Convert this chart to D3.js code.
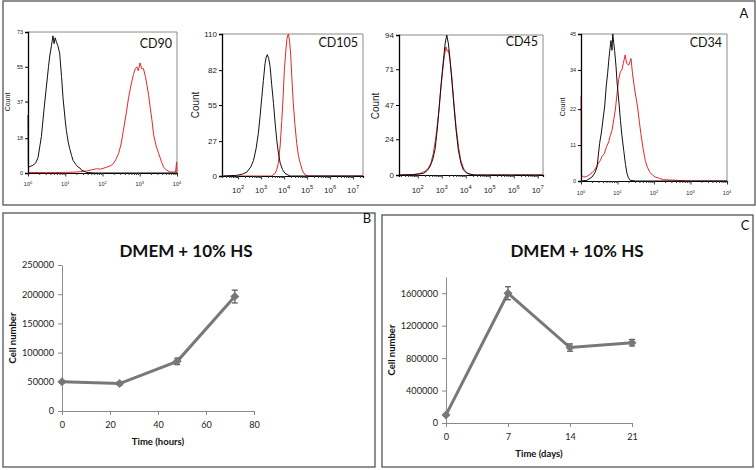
<!DOCTYPE html>
<html><head><meta charset="utf-8">
<script src="https://cdn.jsdelivr.net/npm/d3@7"></script>
<style>body{margin:0;background:#fff} svg{display:block}</style>
</head><body>
<svg id="c" width="756" height="470"></svg>
<script>
// ================= DATA =================
// Flow cytometry histograms: [log10 fluorescence, count]
const markerNames = ["CD90", "CD105", "CD45", "CD34"];
const cd90Isotype = [[0,30],[0.01,3],[0.13,4],[0.2,5],[0.27,8],[0.36,19],[0.43,33],[0.49,44],[0.55,55],[0.58,60],[0.63,66],[0.67,71],[0.7,67],[0.73,70],[0.76,68],[0.8,66],[0.85,62],[0.9,50],[0.94,39],[1.0,27],[1.03,22],[1.08,16],[1.12,12.6],[1.17,9],[1.21,6.5],[1.28,4.5],[1.35,3],[1.4,2.5],[1.44,1.4],[1.5,1],[1.57,0.3],[1.8,0],[4,0]];
const cd90Stained = [[0,0.3],[0.5,0.2],[1.0,0.3],[1.3,0.5],[1.57,1],[1.7,1.6],[1.84,2.2],[1.95,2.0],[2.11,3],[2.2,3.6],[2.29,4.8],[2.36,7],[2.43,10],[2.5,15],[2.56,22],[2.63,30],[2.7,39],[2.76,45],[2.83,51],[2.88,54],[2.92,55],[2.96,53],[3.01,57],[3.05,54],[3.1,54],[3.15,50],[3.19,46],[3.24,40],[3.28,34],[3.33,27],[3.37,20],[3.44,14],[3.51,10],[3.58,6],[3.64,3],[3.72,1.5],[3.82,0.5],[3.96,0.5],[3.99,5.7],[4,0]];
const cd105Isotype = [[1.36,0],[1.94,0.5],[2.2,1.5],[2.38,3],[2.55,7],[2.67,12],[2.78,21],[2.88,33],[2.96,47],[3.03,61],[3.1,74],[3.17,87],[3.22,92],[3.27,94],[3.33,91],[3.39,85],[3.46,71],[3.54,56],[3.61,41],[3.68,28],[3.75,18],[3.83,10],[3.93,5],[4.04,2],[4.26,0],[7.43,0]];
const cd105Stained = [[1.36,0],[3.46,0],[3.61,2],[3.68,5],[3.75,10],[3.83,24],[3.9,43],[3.96,62],[4.01,82],[4.07,96],[4.12,106],[4.16,109],[4.19,110],[4.24,104],[4.29,93],[4.34,75],[4.4,56],[4.47,40],[4.55,25],[4.62,16],[4.7,10],[4.8,4],[4.91,1],[5.06,0],[7.43,0]];
const cd45Isotype = [[1.22,0],[1.82,0.3],[2.23,1],[2.4,3],[2.51,5.6],[2.62,10],[2.72,17],[2.81,30],[2.9,46],[2.98,62],[3.07,77],[3.14,88],[3.21,94],[3.28,88],[3.35,77],[3.43,62],[3.51,46],[3.6,30],[3.69,17],[3.8,8],[3.9,3.4],[4.05,1.2],[4.18,0.5],[4.4,0],[7.22,0]];
const cd45Stained = [[1.22,0],[1.8,0.2],[2.1,1],[2.3,2.5],[2.44,4.5],[2.55,8],[2.65,14.5],[2.76,26],[2.86,40],[2.95,56],[3.04,70],[3.11,80],[3.18,86],[3.23,83],[3.28,84],[3.35,76],[3.42,66],[3.51,48],[3.6,32],[3.7,19],[3.79,10],[3.92,4],[4.04,1.5],[4.3,0],[7.22,0]];
const cd34Isotype = [[0,0],[0.16,0.2],[0.3,1.2],[0.38,2.5],[0.44,4.3],[0.51,11.5],[0.56,15],[0.6,18.6],[0.65,23],[0.69,28.8],[0.73,33],[0.77,38],[0.8,41],[0.82,43],[0.85,40],[0.87,45],[0.9,42],[0.92,40],[0.96,35],[0.99,30],[1.04,24],[1.08,18.6],[1.12,14],[1.17,9.4],[1.22,5],[1.26,2.3],[1.3,1],[1.35,0.2],[1.5,0],[4,0]];
const cd34Stained = [[0,26],[0.01,1.7],[0.08,1.2],[0.16,1.4],[0.23,1.9],[0.3,2.5],[0.36,3.2],[0.42,4.3],[0.48,5.5],[0.53,6.3],[0.58,7.6],[0.64,8.4],[0.7,10.5],[0.76,12],[0.8,13.8],[0.85,15.5],[0.9,19],[0.94,21.7],[0.98,26],[1.03,31],[1.08,33.5],[1.12,34],[1.16,36],[1.21,38.6],[1.25,36],[1.31,35.5],[1.37,37.5],[1.41,33],[1.46,28.8],[1.5,26],[1.55,22.7],[1.6,18],[1.64,14.5],[1.7,10],[1.76,6.3],[1.82,4.2],[1.88,2.8],[1.96,1.8],[2.04,1.2],[2.15,0.8],[2.26,0.4],[2.63,0.2],[3.0,0],[4,0]];
// axis ticks of the histograms
const cd90YTicks = [0, 18, 37, 55, 73];
const cd105YTicks = [0, 27, 55, 82, 110];
const cd45YTicks = [0, 24, 47, 71, 94];
const cd34YTicks = [0, 11, 22, 34, 45];
const cd90XDecades = [0, 1, 2, 3, 4];
const cd105XDecades = [2, 3, 4, 5, 6, 7];
const cd45XDecades = [2, 3, 4, 5, 6, 7];
const cd34XDecades = [0, 1, 2, 3, 4];

// Growth curves
const chartTitle = "DMEM + 10% HS";
const hoursTime = [0, 24, 48, 72];
const hoursCells = [50000, 47000, 85000, 196000];
const hoursErr = [2000, 2500, 5500, 11000];
const hoursYTicks = [0, 50000, 100000, 150000, 200000, 250000];
const hoursXTicks = [0, 20, 40, 60, 80];
const daysTime = [0, 7, 14, 21];
const daysCells = [100000, 1600000, 930000, 990000];
const daysErr = [10000, 80000, 45000, 40000];
const daysYTicks = [0, 400000, 800000, 1200000, 1600000];
const daysXTicks = [0, 7, 14, 21];

// ================= DRAWING =================
const svg = d3.select("#c");
const FONT = "Lato, 'Open Sans', sans-serif";
const AFONT = "'Liberation Sans', Arial, sans-serif";

// panel frames
const frames = [
  {x: 3, y: 1, w: 752, h: 204, label: "A", lx: 744, ly: 18},
  {x: 3, y: 213, w: 372, h: 254, label: "B", lx: 367, ly: 223},
  {x: 382, y: 215, w: 371, h: 252, label: "C", lx: 745, ly: 230}
];
frames.forEach(f => {
  svg.append("rect").attr("x", f.x).attr("y", f.y).attr("width", f.w).attr("height", f.h)
    .attr("fill", "none").attr("stroke", "#555").attr("stroke-width", 1.3);
  svg.append("text").attr("x", f.lx).attr("y", f.ly).attr("text-anchor", "middle")
    .attr("font-family", FONT).attr("font-size", 13).attr("fill", "#111").text(f.label);
});

// histogram panels
const hists = [
  {name: markerNames[0], iso: cd90Isotype, st: cd90Stained, yT: cd90YTicks, xD: cd90XDecades,
   L: 28, R: 177, T: 32, B: 173, dom: [0, 4], ymax: 73, fs: 5.5, cfs: 7, cx: 10, cy: 102, lblY: 186, nameY: 48},
  {name: markerNames[1], iso: cd105Isotype, st: cd105Stained, yT: cd105YTicks, xD: cd105XDecades,
   L: 222, R: 363, T: 34, B: 176, dom: [1.3, 7.43], ymax: 110, fs: 8, cfs: 10, cx: 199, cy: 105, lblY: 193, nameY: 47},
  {name: markerNames[2], iso: cd45Isotype, st: cd45Stained, yT: cd45YTicks, xD: cd45XDecades,
   L: 399, R: 543, T: 35, B: 175, dom: [1.22, 7.22], ymax: 94, fs: 8, cfs: 10, cx: 379, cy: 106, lblY: 193, nameY: 46},
  {name: markerNames[3], iso: cd34Isotype, st: cd34Stained, yT: cd34YTicks, xD: cd34XDecades,
   L: 581, R: 727, T: 34, B: 181, dom: [0, 4], ymax: 45, fs: 5.5, cfs: 7, cx: 565, cy: 107, lblY: 195, nameY: 47}
];

hists.forEach(h => {
  const g = svg.append("g");
  const x = d3.scaleLog().domain([10 ** h.dom[0], 10 ** h.dom[1]]).range([h.L, h.R]);
  const y = d3.scaleLinear().domain([0, h.ymax]).range([h.B, h.T]);
  g.append("path").attr("d", `M${h.L},${h.T}H${h.R}V${h.B}`).attr("fill", "none")
    .attr("stroke", "#8a8a8a").attr("stroke-width", 1);
  const line = d3.line().x(d => x(10 ** d[0])).y(d => y(d[1]));
  g.append("path").datum(h.st).attr("d", line).attr("fill", "none").attr("stroke", "#e8262a").attr("stroke-width", 1);
  g.append("path").datum(h.iso).attr("d", line).attr("fill", "none").attr("stroke", "#111").attr("stroke-width", 1);
  const ya = d3.axisLeft(y).tickValues(h.yT).tickSize(3).tickPadding(2);
  const yg = g.append("g").attr("transform", `translate(${h.L},0)`).call(ya);
  yg.select(".domain").attr("stroke", "#000").attr("stroke-width", 1.3);
  yg.selectAll("text").attr("font-family", AFONT).attr("font-size", h.fs).attr("fill", "#222");
  const minors = [];
  for (let e = Math.floor(h.dom[0]); e <= Math.ceil(h.dom[1]); e++) {
    for (let m = 1; m <= 9; m++) {
      const v = m * 10 ** e;
      if (Math.log10(v) >= h.dom[0] - 1e-9 && Math.log10(v) <= h.dom[1] + 1e-9) minors.push(v);
    }
  }
  const xa = d3.axisBottom(x).tickValues(minors).tickSize(2).tickFormat("");
  const xg = g.append("g").attr("transform", `translate(0,${h.B})`).call(xa);
  xg.select(".domain").attr("stroke", "#000").attr("stroke-width", 1.2);
  xg.selectAll(".tick line").attr("stroke", "#333");
  xg.selectAll(".tick").filter(d => Math.abs(Math.log10(d) - Math.round(Math.log10(d))) < 1e-9)
    .select("line").attr("y2", 3.5);
  h.xD.forEach(e => {
    const t = g.append("text").attr("x", x(10 ** e)).attr("y", h.lblY).attr("text-anchor", "middle")
      .attr("font-family", AFONT).attr("font-size", h.fs).attr("fill", "#222");
    t.append("tspan").text("10");
    t.append("tspan").attr("dy", -h.fs * 0.45).attr("font-size", h.fs * 0.72).text(e);
  });
  g.append("text").attr("transform", `translate(${h.cx},${h.cy}) rotate(-90)`).attr("text-anchor", "middle")
    .attr("font-family", AFONT).attr("font-size", h.cfs).attr("fill", "#222").text("Count");
  g.append("text").attr("x", h.R - 5).attr("y", h.nameY).attr("text-anchor", "end")
    .attr("font-family", FONT).attr("font-size", 12.5).attr("fill", "#111").text(h.name);
});

// growth panels
const growth = [
  {t: hoursTime, v: hoursCells, e: hoursErr, yT: hoursYTicks, xT: hoursXTicks,
   xd: [0, 80], xr: [62, 254], yd: [0, 250000], yr: [411, 265], xlabel: "Time (hours)",
   titleX: 186, ylabX: 13, ylabY: 338, xlabY: 445},
  {t: daysTime, v: daysCells, e: daysErr, yT: daysYTicks, xT: daysXTicks,
   xd: [0, 21], xr: [446, 632], yd: [0, 1800000], yr: [423, 277], xlabel: "Time (days)",
   titleX: 577, ylabX: 392, ylabY: 350, xlabY: 457}
];
const SER = "#787878";
growth.forEach(p => {
  const g = svg.append("g");
  const x = d3.scaleLinear().domain(p.xd).range(p.xr);
  const y = d3.scaleLinear().domain(p.yd).range(p.yr);
  g.append("text").attr("x", p.titleX).attr("y", 257).attr("text-anchor", "middle")
    .attr("font-family", FONT).attr("font-weight", "bold").attr("font-size", 17).attr("fill", "#111").text(chartTitle);
  const yg = g.append("g").attr("transform", `translate(${p.xr[0]},0)`)
    .call(d3.axisLeft(y).tickValues(p.yT).tickSize(4).tickPadding(4).tickFormat(d3.format("d")).tickSizeOuter(0));
  const xg = g.append("g").attr("transform", `translate(0,${p.yr[0]})`)
    .call(d3.axisBottom(x).tickValues(p.xT).tickSize(4).tickPadding(6).tickFormat(d3.format("d")).tickSizeOuter(0));
  [yg, xg].forEach(a => {
    a.select(".domain").attr("stroke", "#8a8a8a");
    a.selectAll(".tick line").attr("stroke", "#8a8a8a");
    a.selectAll("text").attr("font-family", FONT).attr("font-size", 9.2).attr("fill", "#222");
  });
  g.append("text").attr("x", (p.xr[0] + p.xr[1]) / 2).attr("y", p.xlabY).attr("text-anchor", "middle")
    .attr("font-family", FONT).attr("font-weight", "bold").attr("font-size", 9.5).attr("fill", "#111").text(p.xlabel);
  g.append("text").attr("transform", `translate(${p.ylabX},${p.ylabY}) rotate(-90)`).attr("text-anchor", "middle")
    .attr("dy", "0.35em").attr("font-family", FONT).attr("font-weight", "bold").attr("font-size", 9.5)
    .attr("fill", "#111").text("Cell number");
  const pts = p.t.map((t, i) => ({t, v: p.v[i], e: p.e[i]}));
  g.append("path").datum(pts).attr("d", d3.line().x(d => x(d.t)).y(d => y(d.v)))
    .attr("fill", "none").attr("stroke", SER).attr("stroke-width", 3);
  const eb = g.selectAll(".eb").data(pts).enter().append("g");
  eb.append("line").attr("x1", d => x(d.t)).attr("x2", d => x(d.t))
    .attr("y1", d => y(d.v - d.e)).attr("y2", d => y(d.v + d.e)).attr("stroke", "#555").attr("stroke-width", 1.2);
  [-1, 1].forEach(s => eb.append("line").attr("x1", d => x(d.t) - 3).attr("x2", d => x(d.t) + 3)
    .attr("y1", d => y(d.v + s * d.e)).attr("y2", d => y(d.v + s * d.e)).attr("stroke", "#555").attr("stroke-width", 1.2));
  g.selectAll(".mk").data(pts).enter().append("path")
    .attr("transform", d => `translate(${x(d.t)},${y(d.v)})`)
    .attr("d", "M0,-4.5L4.5,0L0,4.5L-4.5,0Z").attr("fill", SER);
});
</script>
</body></html>
